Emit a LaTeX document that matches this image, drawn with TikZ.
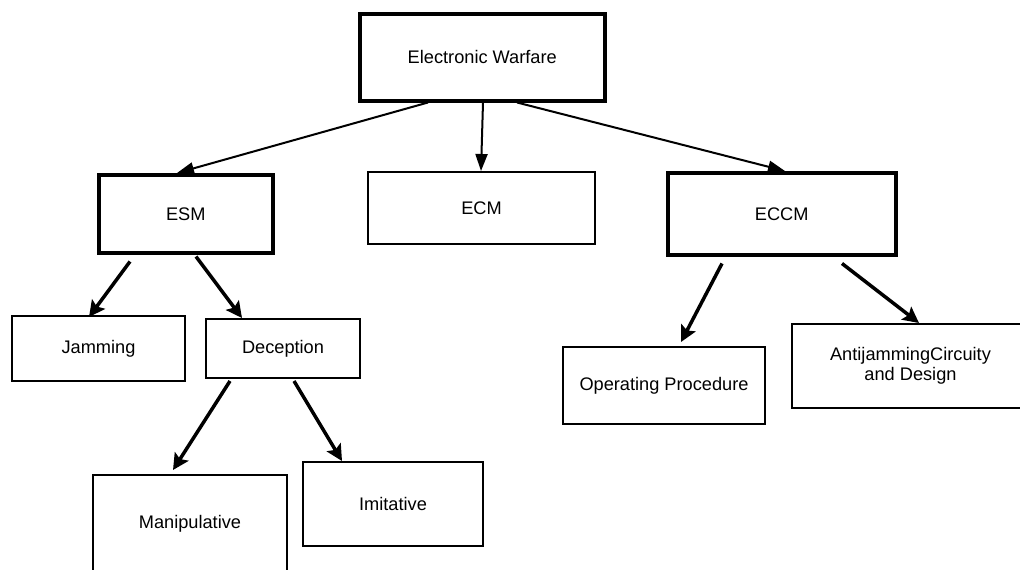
\documentclass[tikz,border=0pt]{standalone}
\usepackage{fontspec}
\setmainfont{Liberation Sans}
\usetikzlibrary{arrows.meta}
\begin{document}
\begin{tikzpicture}[x=1pt,y=-1pt,
  box/.style={draw,line width=2pt,rectangle,inner sep=0pt,anchor=north west,align=center,font=\fontsize{18.2}{20}\selectfont},
  thickbox/.style={box,line width=3.5pt},
  thinarrow/.style={line width=2pt,-{Triangle[length=17pt,width=12pt]}},
  thickarrow/.style={line width=3.5pt,-{Stealth[length=16pt,width=16pt,inset=3pt]}}]
\useasboundingbox (0,0) rectangle (1020,570);
\node[thickbox,minimum width=245pt,minimum height=87pt] (ew) at (358,12) {Electronic Warfare};
\node[thickbox,minimum width=174pt,minimum height=78pt] (esm) at (97,173) {ESM};
\node[box,minimum width=227pt,minimum height=72pt] (ecm) at (367,171) {ECM};
\node[thickbox,minimum width=228pt,minimum height=82pt] (eccm) at (666,171) {ECCM};
\node[box,minimum width=173pt,minimum height=65pt] (jam) at (11,315) {Jamming};
\node[box,minimum width=154pt,minimum height=59pt] (dec) at (205,318) {Deception};
\node[box,minimum width=202pt,minimum height=77pt] (op) at (562,346) {Operating Procedure};
\node[box,minimum width=237pt,minimum height=84pt] (anti) at (791,323) {AntijammingCircuity\\and Design};
\node[box,minimum width=194pt,minimum height=98pt] (man) at (92,474) {Manipulative};
\node[box,minimum width=180pt,minimum height=84pt] (imi) at (302,461) {Imitative};

\draw[thinarrow] ([shift={(70,0)}]ew.south west) -- ([shift={(80,0)}]esm.north west);
\draw[thinarrow] ([shift={(125,0)}]ew.south west) -- ([shift={(114,0)}]ecm.north west);
\draw[thinarrow] ([shift={(159,0)}]ew.south west) -- ([shift={(119,0)}]eccm.north west);
\draw[thickarrow] ([shift={(33,7)}]esm.south west) -- ([shift={(78,2)}]jam.north west);
\draw[thickarrow] ([shift={(99,2)}]esm.south west) -- ([shift={(37,0)}]dec.north west);
\draw[thickarrow] ([shift={(56,7)}]eccm.south west) -- ([shift={(119,-4)}]op.north west);
\draw[thickarrow] ([shift={(176,7)}]eccm.south west) -- ([shift={(128,0)}]anti.north west);
\draw[thickarrow] ([shift={(25,2)}]dec.south west) -- ([shift={(81,-4)}]man.north west);
\draw[thickarrow] ([shift={(89,2)}]dec.south west) -- ([shift={(40,0)}]imi.north west);
\end{tikzpicture}
\end{document}
